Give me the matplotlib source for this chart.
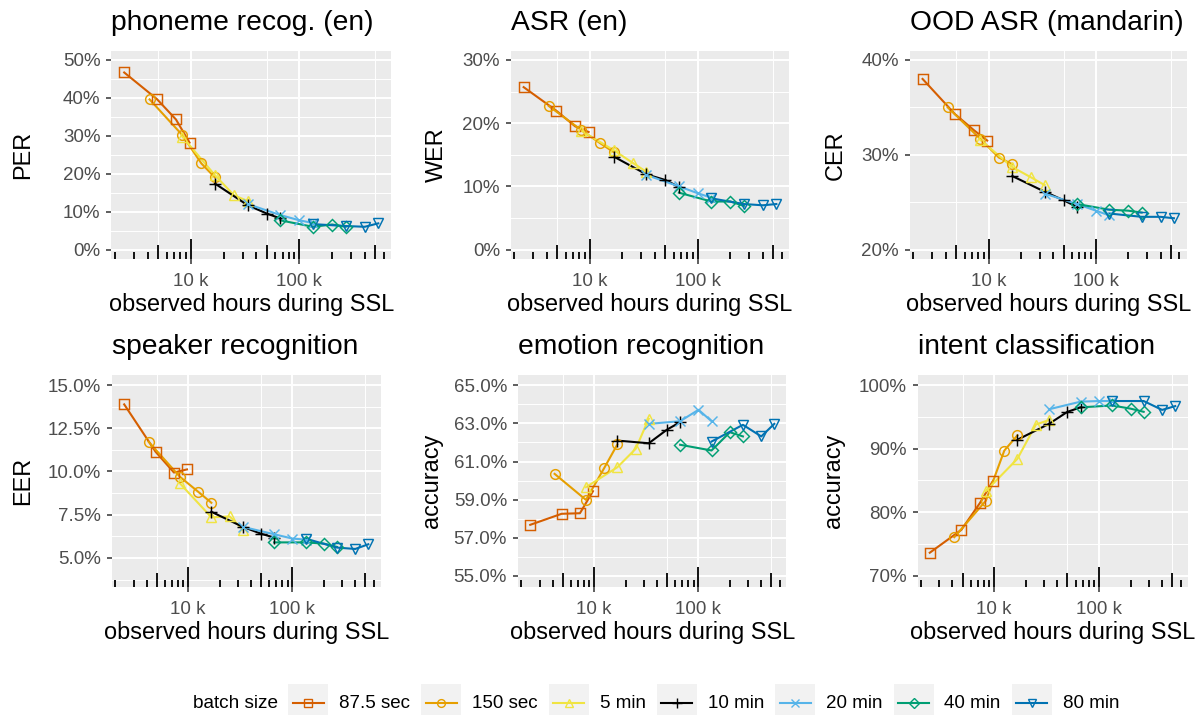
import numpy as np
import matplotlib
matplotlib.use("Agg")
import matplotlib.pyplot as plt
from matplotlib.lines import Line2D
from matplotlib.patches import Rectangle
from matplotlib.transforms import Affine2D
import matplotlib.ticker as mt

plt.rcParams['font.family'] = ['Liberation Sans', 'DejaVu Sans']

W, H = 1196, 715

# batch sizes (legend order)
batches = ["87.5 sec", "150 sec", "5 min", "10 min", "20 min", "40 min", "80 min"]
colors  = ["#D55E00", "#E69F00", "#F0E442", "#000000", "#56B4E9", "#009E73", "#0072B2"]
markers = ['s', 'o', '^', '+', 'x', 'D', 'v']
msizes  = [6.8, 7.0, 7.8, 8.8, 7.2, 6.3, 7.8]

# observed hours during SSL for each checkpoint
h_87s = [2431, 4861, 7292, 9722]
h_150s = [4167, 8333, 12500, 16667]
h_5m = [8333, 16667, 25000, 33333]
h_10m = [16667, 33333, 50000, 66667]
h_20m = [33333, 66667, 100000, 133333]
h_40m = [66667, 133333, 200000, 266667]
h_80m = [133333, 266667, 400000, 533333]
hours = [h_87s, h_150s, h_5m, h_10m, h_20m, h_40m, h_80m]

# task results (%), rows follow `batches`
per = [[46.7, 39.7, 34.3, 28.2], [39.6, 30.2, 22.7, 19.0], [29.8, 19.6, 14.3, 12.8],
       [17.4, 11.7, 9.5, 8.2], [12.0, 9.1, 7.7, 7.0], [7.7, 6.0, 6.6, 6.0], [6.7, 6.2, 6.0, 6.9]]
wer = [[25.7, 22.0, 19.5, 18.6], [22.7, 18.9, 16.8, 15.4], [18.8, 15.7, 13.7, 12.3],
       [14.7, 11.9, 11.0, 9.9], [11.8, 10.0, 8.9, 8.2], [9.0, 7.6, 7.6, 6.9], [8.1, 7.2, 7.0, 7.2]]
cer = [[38.0, 34.3, 32.6, 31.5], [35.0, 31.7, 29.7, 29.0], [31.6, 28.7, 27.6, 26.8],
       [27.75, 26.1, 25.2, 24.5], [25.9, 24.8, 24.1, 23.6], [24.8, 24.2, 24.1, 23.9],
       [23.8, 23.45, 23.45, 23.3]]
eer = [[13.88, 11.14, 9.94, 10.12], [11.72, 9.69, 8.82, 8.19], [9.31, 7.35, 7.4, 6.64],
       [7.67, 6.8, 6.4, 6.18], [6.8, 6.37, 6.12, 6.06], [5.9, 5.9, 5.83, 5.64],
       [6.12, 5.6, 5.52, 5.79]]
emo = [[57.67, 58.25, 58.28, 59.44], [60.35, 58.98, 60.67, 61.9], [59.65, 60.7, 61.67, 63.25],
       [62.1, 61.96, 62.68, 63.07], [62.98, 63.12, 63.72, 63.12], [61.88, 61.58, 62.54, 62.32],
       [62.05, 62.93, 62.32, 62.98]]
intent = [[73.6, 77.2, 81.4, 84.9], [76.05, 81.8, 89.7, 92.1], [83.3, 88.4, 93.8, 94.5],
          [91.4, 93.9, 95.8, 96.5], [96.2, 97.4, 97.5, 97.5], [96.5, 96.8, 96.3, 95.8],
          [97.5, 97.5, 96.1, 96.7]]

titles = ["phoneme recog. (en)", "ASR (en)", "OOD ASR (mandarin)",
          "speaker recognition", "emotion recognition", "intent classification"]
ylabels = ["PER", "WER", "CER", "EER", "accuracy", "accuracy"]
results = [per, wer, cer, eer, emo, intent]
yticks = [[0, 10, 20, 30, 40, 50], [0, 10, 20, 30], [20, 30, 40],
          [5, 7.5, 10, 12.5, 15], [55, 57, 59, 61, 63, 65], [70, 80, 90, 100]]
yminor = [[5, 15, 25, 35, 45], [5, 15, 25], [25, 35],
          [3.75, 6.25, 8.75, 11.25, 13.75], [56, 58, 60, 62, 64], [75, 85, 95]]
ylims = [(-2.5, 52.5), (-1.5, 31.5), (19, 41), (3.32, 15.58), (54.4, 65.55), (68.2, 101.6)]
yfmt = ["%d%%", "%d%%", "%d%%", "%.1f%%", "%.1f%%", "%d%%"]

# panel boxes in pixels: left, top, right, bottom ; y label centre x
boxes = [(111.5, 50.5, 391, 259), (511, 50.5, 789, 259), (910, 50.5, 1186.5, 259),
         (112, 375, 380.5, 587), (518, 375, 786.5, 587), (917.5, 375, 1187.5, 587)]
ylab_x = [22.5, 436, 835, 22.5, 431.5, 834]

fig = plt.figure(figsize=(W / 100, H / 100), dpi=100)
px = Affine2D().scale(1 / W, -1 / H).translate(0, 1) + fig.transFigure

allh = np.log10([h for hs in hours for h in hs])
lo, hi = allh.min(), allh.max()
pad = 0.05 * (hi - lo)
xlim = (10 ** (lo - pad), 10 ** (hi + pad))

for k in range(6):
    l, t, r, b = boxes[k]
    ax = fig.add_axes([l / W, 1 - b / H, (r - l) / W, (b - t) / H])
    ax.set_facecolor("#EBEBEB")
    for s in ax.spines.values():
        s.set_visible(False)
    ax.set_xscale('log')
    ax.set_xlim(*xlim)
    ax.set_ylim(*ylims[k])
    ax.set_axisbelow(True)

    ax.xaxis.set_major_locator(mt.FixedLocator([1e4, 1e5]))
    ax.xaxis.set_major_formatter(mt.FixedFormatter(["10 k", "100 k"]))
    ax.xaxis.set_minor_locator(mt.FixedLocator([5e3, 5e4, 5e5]))
    ax.xaxis.set_minor_formatter(mt.NullFormatter())
    ax.yaxis.set_major_locator(mt.FixedLocator(yticks[k]))
    ax.yaxis.set_major_formatter(mt.FormatStrFormatter(yfmt[k]))
    ax.yaxis.set_minor_locator(mt.FixedLocator(yminor[k]))
    ax.grid(which='major', color='white', lw=1.4)
    ax.grid(which='minor', color='white', lw=0.7)
    ax.tick_params(which='major', length=3.6, width=1.1, color='#333333',
                   labelcolor='#4D4D4D', labelsize=13.5, pad=4.3)
    ax.tick_params(axis='x', which='major', pad=6.5)
    ax.tick_params(which='minor', length=0)

    # log ticks along the bottom
    hpx = b - t
    for dec in [1e3, 1e4, 1e5]:
        for m in range(1, 10):
            x = m * dec
            if x < xlim[0] or x > xlim[1]:
                continue
            L = 20 if m == 1 else (14 if m == 5 else 7)
            ax.plot([x, x], [0, L / hpx], transform=ax.get_xaxis_transform(),
                    color='black', lw=1.3, solid_capstyle='butt', zorder=1.5)

    data = results[k]
    for i in range(7):
        ax.plot(hours[i], data[i], color=colors[i], lw=1.5, zorder=2)
    for i in range(7):
        ax.plot(hours[i], data[i], ls='none', marker=markers[i], ms=msizes[i],
                mfc='none', mec=colors[i], mew=1.05, zorder=3)

    ax.set_title(titles[k], loc='left', fontsize=20.3, pad=14.8, color='black')
    fig.text((l + r) / 2, b + 52, "observed hours during SSL", transform=px,
             ha='center', va='baseline', fontsize=16.9)
    fig.text(ylab_x[k], (t + b) / 2, ylabels[k], transform=px, rotation=90,
             ha='center', va='center', fontsize=16.9)

# legend along the bottom
rend = fig.canvas.get_renderer()
x = 193
cy = 703
tt = fig.text(x, cy + 5, "batch size", transform=px, ha='left', va='baseline', fontsize=13.7)
x = tt.get_window_extent(rend).x1 + 10
for i in range(7):
    fig.add_artist(Rectangle((x, 684), 40, 40, transform=px, facecolor="#F2F2F2",
                             edgecolor='none'))
    fig.add_artist(Line2D([x + 4.5, x + 35.5], [cy, cy], transform=px, color=colors[i], lw=1.5))
    fig.add_artist(Line2D([x + 20], [cy], transform=px, ls='none', marker=markers[i],
                          ms=msizes[i] * 0.8, mfc='none', mec=colors[i], mew=1.0))
    lt = fig.text(x + 51, cy + 5, batches[i], transform=px, ha='left', va='baseline',
                  fontsize=13.5)
    x = lt.get_window_extent(rend).x1 + 11

fig.savefig("out.png", dpi=100)
